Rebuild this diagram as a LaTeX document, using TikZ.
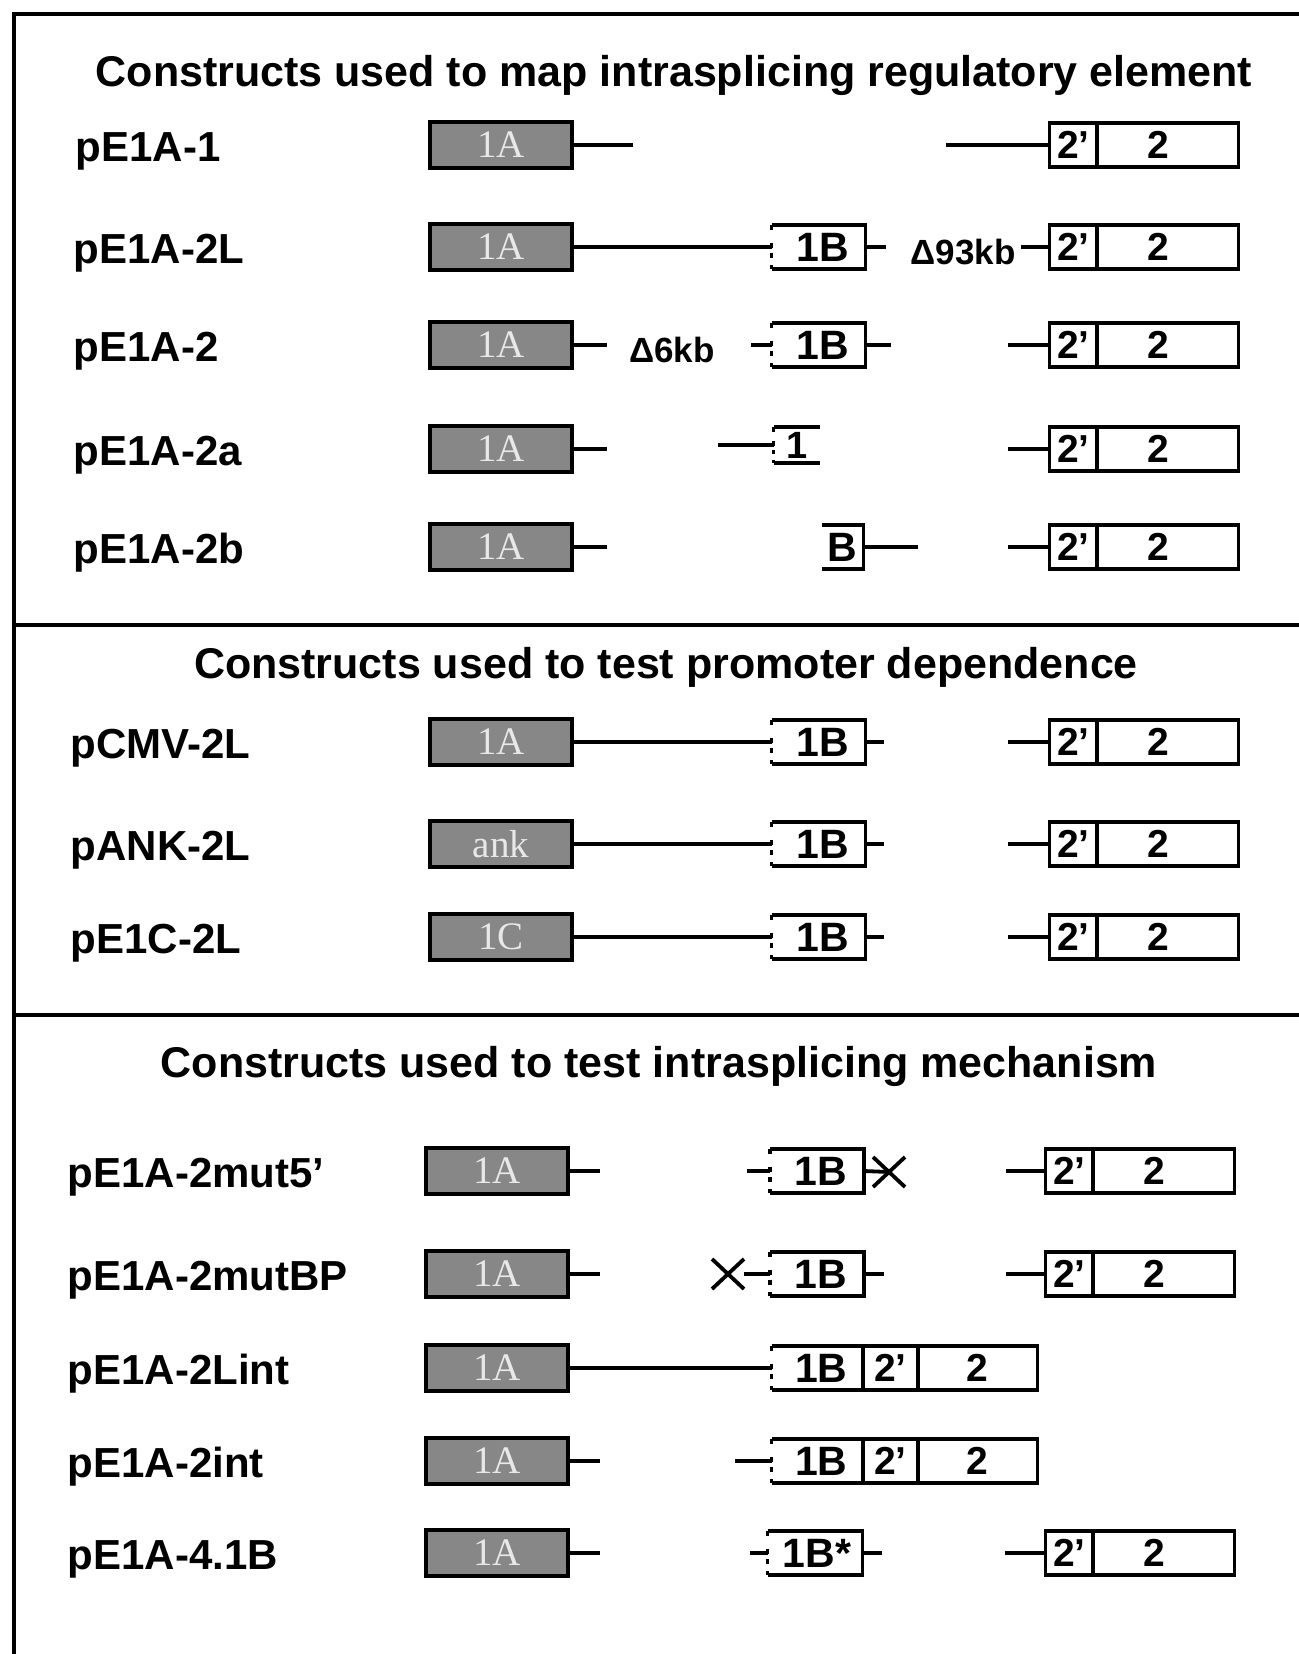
\documentclass[tikz,border=0pt]{standalone}
\usepackage{fontspec}
\setmainfont{Liberation Sans}
\newfontfamily\exonfont{Liberation Serif}
\usetikzlibrary{shapes.misc}

\definecolor{exongray}{RGB}{135,135,135}
\definecolor{exonlabel}{RGB}{232,232,232}

% exon with open (dashed) left side, as 1B
\newcommand{\openexon}[1]{%
  \draw (#1.north west) -- (#1.north east) -- (#1.south east) -- (#1.south west);
  \draw[leftdash] (#1.north west) -- (#1.south west);}

\begin{document}
\begin{tikzpicture}[x=0.5pt, y=-0.5pt, line width=1.9pt, line join=miter,
  lbl/.style={anchor=base west, inner sep=0pt, font=\fontsize{21}{21}\selectfont\bfseries},
  head/.style={anchor=base, inner sep=0pt, font=\fontsize{21.5}{21.5}\selectfont\bfseries},
  exonA/.style={draw, fill=exongray, text=exonlabel, inner sep=0pt, outer sep=0pt,
    minimum width=71.3pt, minimum height=23.3pt, font=\exonfont\fontsize{19.5}{19.5}\selectfont},
  exon/.style={draw, fill=white, inner sep=0pt, outer sep=0pt, minimum height=22.3pt,
    font=\fontsize{19.5}{19.5}\selectfont\bfseries},
  exonB/.style={inner sep=0pt, outer sep=0pt, minimum height=22.3pt,
    font=\fontsize{20.5}{20.5}\selectfont\bfseries},
  gap/.style={inner sep=0pt, font=\fontsize{17.5}{17.5}\selectfont\bfseries},
  mut/.style={cross out, draw, inner sep=0pt, outer sep=0pt, minimum width=16pt, minimum height=15pt},
  leftdash/.style={dash pattern=on 2.5pt off 6.5pt on 2.5pt off 2.5pt on 2.5pt off 3.8pt on 4pt}]

\useasboundingbox (0,0) rectangle (1299,1654);

% Frame and section rules
\draw[line width=2.2pt] (14,1654) -- (14,14) -- (1299,14);
\draw[line width=2.2pt] (14,625) -- (1299,625);
\draw[line width=2.2pt] (14,1015) -- (1299,1015);

% Headings
\node[head] (h1) at (674,86) {Constructs used to map intrasplicing regulatory element};
\node[head] (h2) at (666,678) {Constructs used to test promoter dependence};
\node[head] (h3) at (659,1077) {Constructs used to test intrasplicing mechanism};

% Construct names
\foreach \n/\x/\y/\t in {1/74/145/pE1A-1, 2/72/247/pE1A-2L, 3/72/345/pE1A-2,
    4/72/449/pE1A-2a, 5/72/547/pE1A-2b, 6/69/742/pCMV-2L, 7/69/844/pANK-2L,
    8/69/937/pE1C-2L, 9/66/1171/pE1A-2mut5’, 10/66/1274/pE1A-2mutBP,
    11/66/1368/pE1A-2Lint, 12/66/1461/pE1A-2int, 13/66/1553/pE1A-4.1B}
  \node[lbl] (l\n) at (\x,\y+16) {\t};

% Promoter exons (grey)
\foreach \n/\x/\y/\t in {1/501/145/1A, 2/501/247/1A, 3/501/345/1A, 4/501/449/1A,
    5/501/547/1A, 6/501/742/1A, 7/501/844/ank, 8/501/937/1C, 9/497/1171/1A,
    10/497/1274/1A, 11/497/1368/1A, 12/497/1461/1A, 13/497/1553/1A}
  \node[exonA] (a\n) at (\x,\y) {\t};

% Exons 2' and 2
\foreach \n/\x/\y in {1/1049.5/145, 2/1049.5/247, 3/1049.5/345, 4/1049.5/449,
    5/1049.5/547, 6/1049.5/742, 7/1049.5/844, 8/1049.5/937, 9/1045.5/1171,
    10/1045.5/1274, 13/1045.5/1553} {
  \node[exon, minimum width=23.75pt, anchor=west] (p\n) at (\x,\y) {2’};
  \node[exon, minimum width=70.75pt, anchor=west] (e\n) at (p\n.east) {2\kern9pt};
}

% Exons 1B
\foreach \n/\x/\y in {2/818.5/247, 3/818.5/345, 6/818.5/742, 7/818.5/844,
    8/818.5/937, 9/817/1171, 10/817/1274} {
  \node[exonB, minimum width=47pt] (b\n) at (\x,\y) {\hspace{4pt}1B};
  \openexon{b\n}
}
\node[exonB, minimum width=47.5pt] (b13) at (815,1553) {\hspace{2pt}1B*};
\openexon{b13}

% 1B fused to 2' and 2
\foreach \n/\y in {11/1368, 12/1461} {
  \node[exonB, minimum width=45.75pt] (b\n) at (817.25,\y) {\hspace{4pt}1B};
  \node[exon, minimum width=27.5pt, anchor=west] (p\n) at (b\n.east) {2’};
  \node[exon, minimum width=59.75pt, anchor=west] (e\n) at (p\n.east) {2};
  \draw (b\n.north east) -- (b\n.north west);
  \draw[leftdash] (b\n.north west) -- (b\n.south west);
  \draw (b\n.south west) -- (b\n.south east);
}

% Halves of 1B
\node[exonB, minimum width=23.25pt, minimum height=18pt, font=\fontsize{19}{19}\selectfont\bfseries] (b4) at (796.75,445) {1};
\draw (b4.north east) -- (b4.north west);
\draw[dash pattern=on 2.5pt off 4.5pt on 2.5pt off 2pt on 2pt off 3pt on 3pt] (b4.north west) -- (b4.south west);
\draw (b4.south west) -- (b4.south east);
\node[exonB, minimum width=20.75pt, minimum height=22pt] (b5) at (842.75,547) {B};
\draw (b5.north west) -- (b5.north east) -- (b5.south east) -- (b5.south west);

% Section 1 introns
\coordinate (s1a) at (633,145); \coordinate (s1b) at (946,145);
\draw (a1.east) -- (s1a);
\draw (s1b) -- (p1.west);

\draw (a2.east) -- (b2.west);
\coordinate (s2a) at (886,247); \coordinate (s2b) at (1021,247);
\draw (b2.east) -- (s2a);
\node[gap] (g2) at (963,252) {Δ93kb};
\draw (s2b) -- (p2.west);

\coordinate (s3a) at (607,345); \coordinate (s3b) at (751,345);
\coordinate (s3c) at (891,345); \coordinate (s3d) at (1008,345);
\draw (a3.east) -- (s3a);
\node[gap] (g3) at (672,350) {Δ6kb};
\draw (s3b) -- (b3.west);
\draw (b3.east) -- (s3c);
\draw (s3d) -- (p3.west);

\coordinate (s4a) at (607,449); \coordinate (s4b) at (718,445); \coordinate (s4c) at (1008,449);
\draw (a4.east) -- (s4a);
\draw (s4b) -- (b4.west);
\draw (s4c) -- (p4.west);

\coordinate (s5a) at (607,547); \coordinate (s5b) at (918,547); \coordinate (s5c) at (1008,547);
\draw (a5.east) -- (s5a);
\draw (b5.east) -- (s5b);
\draw (s5c) -- (p5.west);

% Section 2 introns
\foreach \n/\y in {6/742, 7/844, 8/937} {
  \coordinate (r\n) at (884,\y); \coordinate (q\n) at (1008,\y);
  \draw (a\n.east) -- (b\n.west);
  \draw (b\n.east) -- (r\n);
  \draw (q\n) -- (p\n.west);
}

% Section 3 introns
\coordinate (s9a) at (600,1171); \coordinate (s9b) at (747,1171); \coordinate (s9c) at (1006,1171);
\draw (a9.east) -- (s9a);
\draw (s9b) -- (b9.west);
\node[mut] (x9) at (889,1172) {};
\draw (b9.east) -- (x9.center);
\draw (s9c) -- (p9.west);

\coordinate (s10a) at (600,1274); \coordinate (s10b) at (884,1274); \coordinate (s10c) at (1006,1274);
\draw (a10.east) -- (s10a);
\node[mut] (x10) at (728,1274) {};
\draw (x10.east) -- (b10.west);
\draw (b10.east) -- (s10b);
\draw (s10c) -- (p10.west);

\draw (a11.east) -- (b11.west);

\coordinate (s12a) at (600,1461); \coordinate (s12b) at (735,1461);
\draw (a12.east) -- (s12a);
\draw (s12b) -- (b12.west);

\coordinate (s13a) at (600,1553); \coordinate (s13b) at (750,1553);
\coordinate (s13c) at (882,1553); \coordinate (s13d) at (1005,1553);
\draw (a13.east) -- (s13a);
\draw (s13b) -- (b13.west);
\draw (b13.east) -- (s13c);
\draw (s13d) -- (p13.west);

\end{tikzpicture}
\end{document}
